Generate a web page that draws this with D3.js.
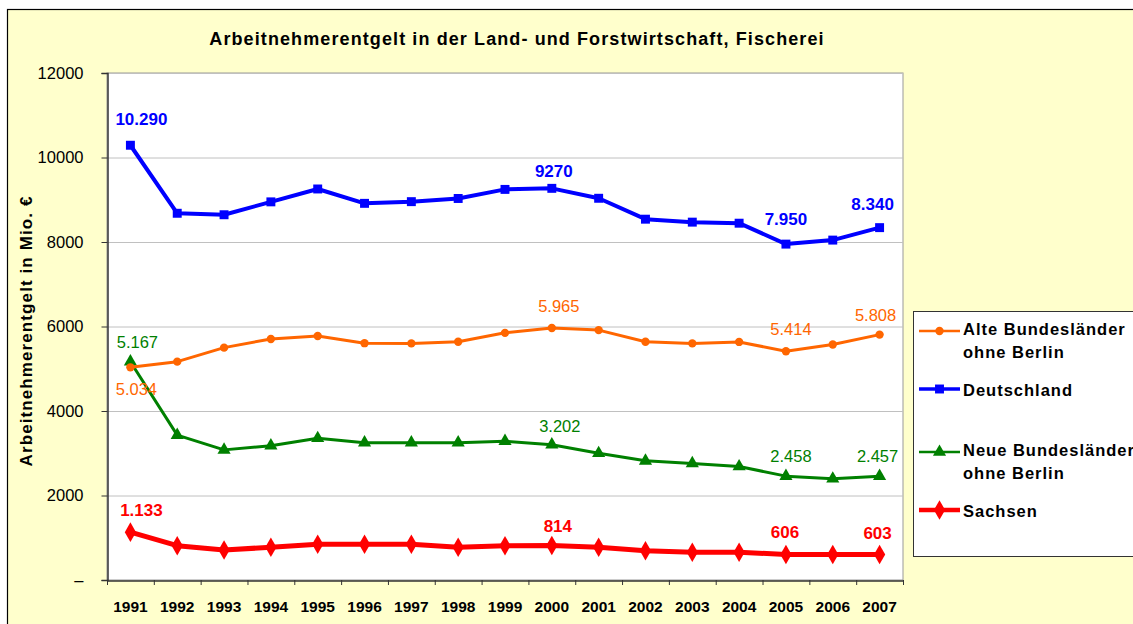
<!DOCTYPE html>
<html>
<head>
<meta charset="utf-8">
<script src="https://cdn.jsdelivr.net/npm/d3@7.9.0/dist/d3.min.js"></script>
<style>
  body { margin: 0; background: #fff; }
  svg text { font-family: "Liberation Sans", Arial, sans-serif; }
</style>
</head>
<body>
<svg id="chart" width="1133" height="624"></svg>
<script>
// values (Mio. €)
const years = ['1991', '1992', '1993', '1994', '1995', '1996', '1997', '1998', '1999',
  '2000', '2001', '2002', '2003', '2004', '2005', '2006', '2007'];
const alteLaender = [5034, 5168, 5500, 5705, 5775, 5605, 5600, 5640, 5850, 5965, 5915, 5640, 5600, 5635, 5414, 5575, 5808];
const deutschland = [10290, 8680, 8645, 8950, 9255, 8915, 8955, 9030, 9245, 9270, 9035, 8540, 8470, 8445, 7950, 8045, 8340];
const neueLaender = [5167, 3430, 3080, 3180, 3355, 3250, 3250, 3250, 3285, 3202, 3000, 2820, 2760, 2685, 2458, 2395, 2457];
const sachsen = [1133, 812, 710, 775, 845, 845, 845, 775, 812, 814, 775, 695, 655, 655, 606, 605, 603];
const yTicks = [0, 2000, 4000, 6000, 8000, 10000, 12000];
const labelledYears = ['1991', '2000', '2005', '2007'];

const series = [
  { key: 'alte', name: ['Alte Bundesländer', 'ohne Berlin'], values: alteLaender, color: '#FF6600', width: 3, marker: 'circle', bold: false },
  { key: 'de', name: ['Deutschland'], values: deutschland, color: '#0000FF', width: 4, marker: 'square', bold: true },
  { key: 'neue', name: ['Neue Bundesländer', 'ohne Berlin'], values: neueLaender, color: '#008000', width: 3, marker: 'triangle', bold: false },
  { key: 'sachsen', name: ['Sachsen'], values: sachsen, color: '#FF0000', width: 5, marker: 'diamond', bold: true },
];

// label nudges relative to the point (layout only)
const labelOffset = {
  'de-1991': [11, -20], 'de-2000': [2, -11], 'de-2005': [0, -19], 'de-2007': [-7, -18],
  'alte-1991': [6, 28], 'alte-2000': [7, -16], 'alte-2005': [5, -16], 'alte-2007': [-4, -14],
  'neue-1991': [7, -14], 'neue-2000': [8, -13], 'neue-2005': [5, -14], 'neue-2007': [-2, -14],
  'sachsen-1991': [11, -16], 'sachsen-2000': [6, -14], 'sachsen-2005': [-1, -16], 'sachsen-2007': [-2, -16],
};

const svg = d3.select('#chart');
const plot = { left: 107, right: 903, top: 73, bottom: 580 };

const x = d3.scaleBand().domain(years).range([plot.left, plot.right]).paddingInner(0).paddingOuter(0);
const y = d3.scaleLinear().domain([0, 12000]).range([plot.bottom, plot.top]);
const cx = (yr) => x(yr) + x.bandwidth() / 2;

// chart frame
svg.append('rect')
  .attr('x', 7.5).attr('y', 9.5).attr('width', 1140).attr('height', 630)
  .attr('fill', '#FFFFCC').attr('stroke', '#000').attr('stroke-width', 1.2);

// plot area
svg.append('rect')
  .attr('x', plot.left).attr('y', plot.top)
  .attr('width', plot.right - plot.left).attr('height', plot.bottom - plot.top)
  .attr('fill', '#fff').attr('stroke', '#999').attr('stroke-width', 1);

// title
svg.append('text')
  .attr('x', 517).attr('y', 45)
  .attr('text-anchor', 'middle')
  .attr('font-size', 18).attr('font-weight', 'bold')
  .attr('letter-spacing', 1.1)
  .text('Arbeitnehmerentgelt in der Land- und Forstwirtschaft, Fischerei');

// gridlines
svg.append('g')
  .selectAll('line')
  .data(yTicks.filter((d) => d > 0))
  .join('line')
  .attr('x1', plot.left).attr('x2', plot.right)
  .attr('y1', (d) => y(d) + 0.5).attr('y2', (d) => y(d) + 0.5)
  .attr('stroke', '#C0C0C0').attr('stroke-width', 1);

// y axis
const yAxis = svg.append('g')
  .attr('transform', `translate(${plot.left + 0.5},0)`)
  .call(d3.axisLeft(y).tickValues(yTicks).tickSize(6).tickPadding(18)
    .tickFormat((d) => (d === 0 ? '–' : String(d))));
yAxis.select('.domain').attr('stroke', '#333').attr('stroke-width', 1.5);
yAxis.selectAll('.tick line').attr('stroke', '#333');
yAxis.selectAll('.tick text')
  .attr('font-family', '"Liberation Sans", Arial, sans-serif')
  .attr('font-size', 16.5).attr('fill', '#000');

// x axis
const xAxis = svg.append('g')
  .attr('transform', `translate(0,${plot.bottom + 0.5})`)
  .call(d3.axisBottom(x).tickSize(0).tickPadding(20));
xAxis.select('.domain').attr('stroke', '#333').attr('stroke-width', 1.5);
xAxis.selectAll('.tick text')
  .attr('font-family', '"Liberation Sans", Arial, sans-serif')
  .attr('font-size', 15.5).attr('font-weight', 'bold').attr('fill', '#000')
  .attr('dy', '0.71em');
// tick marks sit on the category boundaries
svg.append('g')
  .selectAll('line')
  .data(d3.range(years.length + 1))
  .join('line')
  .attr('x1', (i) => plot.left + i * x.bandwidth() + 0.5)
  .attr('x2', (i) => plot.left + i * x.bandwidth() + 0.5)
  .attr('y1', plot.bottom).attr('y2', plot.bottom + 5)
  .attr('stroke', '#333');

// y axis title
svg.append('text')
  .attr('transform', 'translate(32,331) rotate(-90)')
  .attr('text-anchor', 'middle')
  .attr('font-size', 17).attr('font-weight', 'bold')
  .attr('letter-spacing', 1.1)
  .text('Arbeitnehmerentgelt in Mio. €');

const symbolType = {
  circle: d3.symbolCircle,
  square: d3.symbolSquare,
  triangle: d3.symbolTriangle,
  diamond: d3.symbolDiamond,
};
const symbolSize = { circle: 55, square: 80, triangle: 75, diamond: 110 };

const line = d3.line().x((d) => cx(d.year)).y((d) => y(d.value));

// draw series: bottom ones first so blue sits on top like the original
const drawOrder = ['sachsen', 'neue', 'alte', 'de'];
drawOrder.forEach((k) => {
  const s = series.find((d) => d.key === k);
  const pts = years.map((yr, i) => ({ year: yr, value: s.values[i] }));
  const g = svg.append('g');
  g.append('path')
    .datum(pts)
    .attr('d', line)
    .attr('fill', 'none')
    .attr('stroke', s.color)
    .attr('stroke-width', s.width)
    .attr('stroke-linejoin', 'round');
  g.selectAll('path.mark')
    .data(pts)
    .join('path')
    .attr('class', 'mark')
    .attr('transform', (d) => `translate(${cx(d.year)},${y(d.value)})`)
    .attr('d', d3.symbol().type(symbolType[s.marker]).size(symbolSize[s.marker]))
    .attr('fill', s.color);

  // data labels
  g.selectAll('text')
    .data(pts.filter((d) => labelledYears.includes(d.year)))
    .join('text')
    .attr('x', (d) => cx(d.year) + labelOffset[`${k}-${d.year}`][0])
    .attr('y', (d) => y(d.value) + labelOffset[`${k}-${d.year}`][1])
    .attr('text-anchor', 'middle')
    .attr('font-size', s.bold ? 17 : 16.5)
    .attr('font-weight', s.bold ? 'bold' : 'normal')
    .attr('fill', s.color)
    .text((d) => (k === 'de' && d.year === '2000' ? String(d.value) : d3.format(',')(d.value).replace(/,/g, '.')));
});

// legend
const legend = svg.append('g');
legend.append('rect')
  .attr('x', 913.5).attr('y', 311.5).attr('width', 240).attr('height', 245)
  .attr('fill', '#fff').attr('stroke', '#333').attr('stroke-width', 1);

const legendRows = [331, 389, 452, 510];
series.forEach((s, i) => {
  const ly = legendRows[i];
  const g = legend.append('g');
  g.append('line')
    .attr('x1', 919).attr('x2', 960).attr('y1', ly).attr('y2', ly)
    .attr('stroke', s.color).attr('stroke-width', s.width - 0.5);
  g.append('path')
    .attr('transform', `translate(939.5,${ly})`)
    .attr('d', d3.symbol().type(symbolType[s.marker]).size(symbolSize[s.marker]))
    .attr('fill', s.color);
  const t = g.append('text')
    .attr('x', 963).attr('y', ly + 4 + (s.name.length > 1 ? 0 : 3))
    .attr('font-size', 16.5).attr('font-weight', 'bold')
    .attr('letter-spacing', 1);
  s.name.forEach((part, j) => {
    t.append('tspan').attr('x', 963).attr('dy', j === 0 ? 0 : 23).text(part);
  });
});
</script>
</body>
</html>
